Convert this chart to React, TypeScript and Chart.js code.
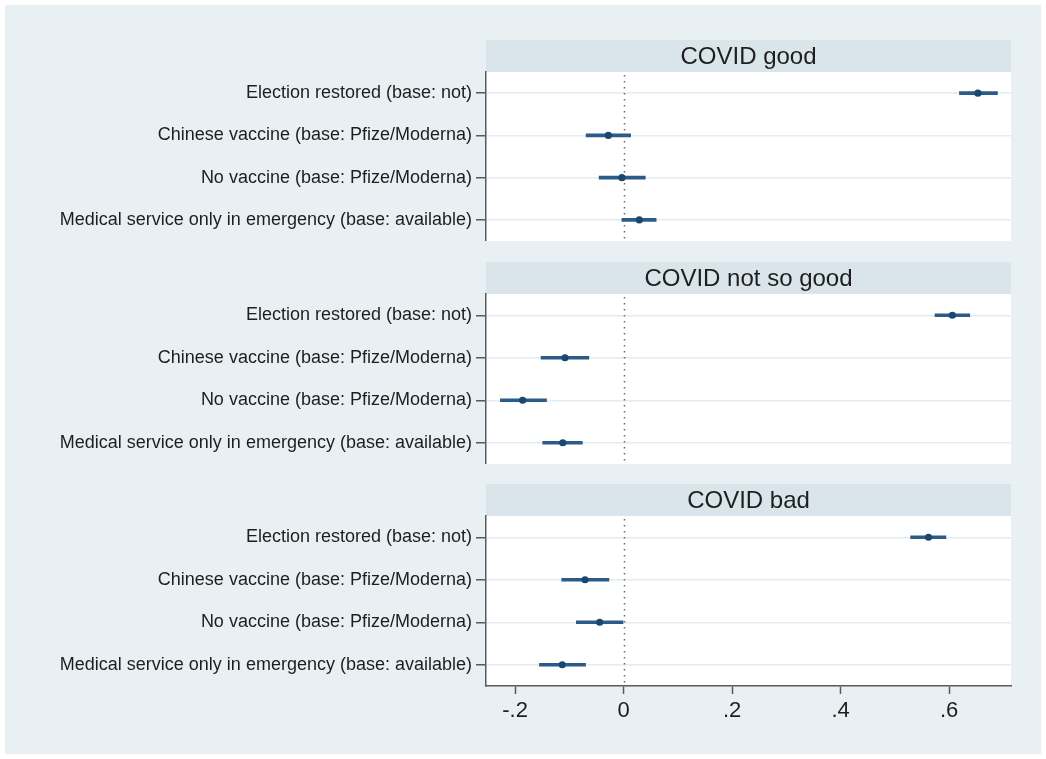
import React, { useEffect, useRef } from 'react';
import { Chart, registerables } from 'chart.js';

Chart.register(...registerables);

// ---------- data ----------
const CATEGORIES = [
  'Election restored (base: not)',
  'Chinese vaccine (base: Pfize/Moderna)',
  'No vaccine (base: Pfize/Moderna)',
  'Medical service only in emergency (base: available)',
];
const PANEL_TITLES = ['COVID good', 'COVID not so good', 'COVID bad'];

const GOOD_EST = [0.653, -0.028, -0.003, 0.029];
const GOOD_LO = [0.619, -0.069, -0.045, -0.003];
const GOOD_HI = [0.689, 0.013, 0.04, 0.06];

const NOTSO_EST = [0.606, -0.108, -0.186, -0.112];
const NOTSO_LO = [0.574, -0.152, -0.227, -0.149];
const NOTSO_HI = [0.638, -0.064, -0.142, -0.076];

const BAD_EST = [0.562, -0.071, -0.044, -0.113];
const BAD_LO = [0.529, -0.114, -0.087, -0.155];
const BAD_HI = [0.594, -0.027, -0.001, -0.07];

const X_TICKS = [-0.2, 0, 0.2, 0.4, 0.6];
const X_MIN = -0.2535;
const X_MAX = 0.714;

// ---------- style ----------
const W = 1046;
const PLOT_LEFT = 486;
const PLOT_RIGHT = 1011;
const HEADER_H = 32;
const FONT = "'Liberation Sans', Arial, Helvetica, sans-serif";
const NAVY = '#1A476F';
const CI_COLOR = '#2B5B86';
const AXIS = '#5a5a5a';
const GRID = '#E4ECF0';
const TEXT = '#1e1e1e';
const HEADER_BG = '#D9E5EB';
const OUTER_BG = '#E9F0F3';

function fmtTick(v: number): string {
  if (v === 0) return '0';
  const s = String(Math.abs(v)).replace(/^0/, '');
  return (v < 0 ? '-' : '') + s;
}

const panelPlugin = {
  id: 'panelDecor',
  beforeDraw(chart: any) {
    const { ctx, chartArea } = chart;
    const title = chart.options.plugins.panelDecor?.title ?? '';
    ctx.save();
    ctx.fillStyle = '#ffffff';
    ctx.fillRect(chartArea.left, chartArea.top, chartArea.right - chartArea.left, chartArea.bottom - chartArea.top);
    ctx.fillStyle = HEADER_BG;
    ctx.fillRect(chartArea.left, chartArea.top - HEADER_H, chartArea.right - chartArea.left, HEADER_H);
    ctx.fillStyle = TEXT;
    ctx.font = `24px ${FONT}`;
    ctx.textAlign = 'center';
    ctx.textBaseline = 'middle';
    ctx.fillText(title, (chartArea.left + chartArea.right) / 2, chartArea.top - HEADER_H / 2 + 1);
    ctx.restore();
  },
  beforeDatasetsDraw(chart: any) {
    const { ctx, chartArea, scales } = chart;
    const x0 = Math.round(scales.x.getPixelForValue(0)) + 0.5;
    ctx.save();
    ctx.strokeStyle = '#6a6a6a';
    ctx.lineWidth = 1.5;
    ctx.setLineDash([1.5, 4.5]);
    ctx.beginPath();
    ctx.moveTo(x0, chartArea.top + 3);
    ctx.lineTo(x0, chartArea.bottom);
    ctx.stroke();
    ctx.restore();
  },
};

type PanelProps = {
  title: string;
  est: number[];
  lo: number[];
  hi: number[];
  top: number;
  plotH: number;
  showX: boolean;
};

function Panel({ title, est, lo, hi, top, plotH, showX }: PanelProps) {
  const ref = useRef<HTMLCanvasElement>(null);
  const axisH = showX ? 52 : 0;
  const h = HEADER_H + plotH + axisH;

  useEffect(() => {
    if (!ref.current) return;
    const chart = new Chart(ref.current, {
      type: 'bar',
      data: {
        labels: CATEGORIES,
        datasets: [
          {
            type: 'line',
            data: est,
            indexAxis: 'y',
            showLine: false,
            pointRadius: 3.6,
            pointBackgroundColor: NAVY,
            pointBorderColor: NAVY,
            pointBorderWidth: 0,
            order: 0,
          } as any,
          {
            type: 'bar',
            data: lo.map((l, i) => [l, hi[i]]),
            backgroundColor: CI_COLOR,
            barThickness: 3,
            borderWidth: 0,
            borderSkipped: false,
            order: 1,
          } as any,
        ],
      },
      options: {
        indexAxis: 'y',
        responsive: false,
        animation: false,
        devicePixelRatio: 1,
        layout: {
          autoPadding: false,
          padding: { top: HEADER_H, right: W - PLOT_RIGHT, left: 0, bottom: 0 },
        },
        plugins: {
          legend: { display: false },
          tooltip: { enabled: false },
          title: { display: false },
          panelDecor: { title },
        } as any,
        scales: {
          x: {
            type: 'linear',
            min: X_MIN,
            max: X_MAX,
            display: showX,
            afterBuildTicks: (s: any) => {
              s.ticks = X_TICKS.map((v) => ({ value: v }));
            },
            afterFit: (s: any) => {
              s.height = axisH;
              s.paddingLeft = 0;
              s.paddingRight = 0;
            },
            grid: {
              drawOnChartArea: false,
              drawTicks: true,
              tickLength: 8,
              tickColor: AXIS,
              tickWidth: 1.5,
            },
            border: { display: true, color: AXIS, width: 1.5 },
            ticks: {
              color: TEXT,
              font: { family: FONT, size: 22 },
              padding: 4,
              maxRotation: 0,
              autoSkip: false,
              callback: (v: any) => fmtTick(Number(v)),
            },
          },
          y: {
            type: 'category',
            offset: true,
            afterFit: (s: any) => {
              s.width = PLOT_LEFT;
              s.paddingTop = 0;
              s.paddingBottom = 0;
            },
            grid: {
              offset: false,
              color: GRID,
              lineWidth: 1.5,
              tickColor: AXIS,
              tickLength: 10,
              tickWidth: 1.5,
            },
            border: { display: true, color: AXIS, width: 1.5 },
            ticks: {
              color: TEXT,
              font: { family: FONT, size: 18 },
              padding: 4,
              autoSkip: false,
            },
          },
        },
      } as any,
      plugins: [panelPlugin],
    });
    return () => chart.destroy();
  }, []);

  return (
    <canvas
      ref={ref}
      width={W}
      height={h}
      style={{ position: 'absolute', left: 0, top, width: W, height: h }}
    />
  );
}

export default function App() {
  return (
    <div
      style={{
        position: 'absolute',
        left: 0,
        top: 0,
        width: W,
        height: 759,
        background: '#ffffff',
        overflow: 'hidden',
      }}
    >
      <div
        style={{
          position: 'absolute',
          left: 5,
          top: 5,
          width: 1036,
          height: 749,
          background: OUTER_BG,
        }}
      />
      <Panel title={PANEL_TITLES[0]} est={GOOD_EST} lo={GOOD_LO} hi={GOOD_HI} top={40} plotH={169} showX={false} />
      <Panel title={PANEL_TITLES[1]} est={NOTSO_EST} lo={NOTSO_LO} hi={NOTSO_HI} top={262} plotH={170} showX={false} />
      <Panel title={PANEL_TITLES[2]} est={BAD_EST} lo={BAD_LO} hi={BAD_HI} top={484} plotH={170} showX={true} />
    </div>
  );
}
